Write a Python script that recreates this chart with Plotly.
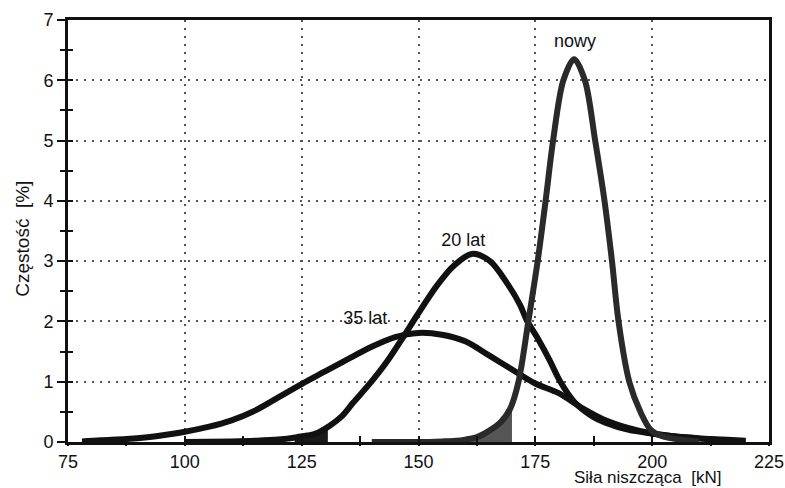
import plotly.graph_objects as go

# ---- data ----
x_35 = [78, 82, 87.5, 92, 96, 100, 105, 110, 115, 120, 125, 130, 135, 140, 145, 150,
        155, 160, 165, 171.3, 175, 180, 185.3, 190, 195, 200, 205, 210, 215, 220]
y_35 = [0.01, 0.03, 0.05, 0.08, 0.12, 0.17, 0.25, 0.36, 0.52, 0.74, 0.96, 1.17, 1.38, 1.58, 1.74, 1.81,
        1.78, 1.67, 1.44, 1.14, 0.97, 0.81, 0.55, 0.36, 0.23, 0.14, 0.09, 0.06, 0.04, 0.02]

x_20 = [100, 110, 115, 120, 124, 128, 131, 133.5, 136, 139.7, 143.3, 146.8, 149.6, 153.9, 157.5,
        161.4, 165.3, 168.9, 171.7, 173.1, 175.5, 178.1, 180.2, 183.4, 187.3, 190, 195, 200, 205, 210, 215, 220]
y_20 = [0.0, 0.01, 0.02, 0.04, 0.08, 0.14, 0.27, 0.42, 0.65, 0.98, 1.34, 1.75, 2.09, 2.59, 2.92,
        3.12, 3.0, 2.64, 2.28, 2.03, 1.72, 1.35, 1.02, 0.66, 0.42, 0.32, 0.2, 0.14, 0.09, 0.06, 0.03, 0.01]

x_nowy = [140, 150, 155, 158, 160, 162.5, 165, 167.5, 169.6, 171.4, 173.5, 175.5, 177.2, 178.8, 181, 183.3,
          185.6, 187.8, 189.8, 191.4, 192.8, 195.1, 197.6, 199.7, 202, 205, 210]
y_nowy = [0.0, 0.0, 0.01, 0.02, 0.04, 0.08, 0.18, 0.32, 0.55, 1.0, 2.0, 3.0, 4.0, 5.0, 6.0, 6.35,
          6.0, 5.0, 4.0, 3.0, 2.0, 1.0, 0.48, 0.2, 0.1, 0.05, 0.01]

shade_20_x = [123.5, 126, 128, 130.6]
shade_20_y = [0.06, 0.1, 0.15, 0.24]

shade_nowy_x = [160, 162.5, 165, 167.5, 170]
shade_nowy_y = [0.03, 0.08, 0.18, 0.33, 0.62]

labels = ["nowy", "20 lat", "35 lat"]
label_x = [183.5, 159.6, 138.6]
label_y = [6.63, 3.33, 2.04]

x_ticks = [75, 100, 125, 150, 175, 200, 225]
y_ticks = [0, 1, 2, 3, 4, 5, 6, 7]

FONT = "Liberation Sans, Arial, sans-serif"
INK = "#111111"

fig = go.Figure()

fig.add_trace(go.Scatter(x=shade_20_x, y=shade_20_y, mode="lines", fill="tozeroy",
                         line=dict(color="#1a1a1a", width=0), fillcolor="#1a1a1a",
                         hoverinfo="skip", showlegend=False))
fig.add_trace(go.Scatter(x=shade_nowy_x, y=shade_nowy_y, mode="lines", fill="tozeroy",
                         line=dict(color="#555555", width=0), fillcolor="#555555",
                         hoverinfo="skip", showlegend=False))

fig.add_trace(go.Scatter(x=x_35, y=y_35, mode="lines", line=dict(color=INK, width=6, shape="spline", smoothing=0.9),
                         showlegend=False, name="35 lat"))
fig.add_trace(go.Scatter(x=x_20, y=y_20, mode="lines", line=dict(color=INK, width=6, shape="spline", smoothing=0.9),
                         showlegend=False, name="20 lat"))
fig.add_trace(go.Scatter(x=x_nowy, y=y_nowy, mode="lines", line=dict(color="#2a2a2a", width=6, shape="spline", smoothing=0.9),
                         showlegend=False, name="nowy"))

fig.add_trace(go.Scatter(x=label_x, y=label_y, mode="text", text=labels,
                         textfont=dict(family=FONT, size=18, color=INK), showlegend=False, hoverinfo="skip"))

# overlay axes for inward ticks
fig.add_trace(go.Scatter(x=[], y=[], xaxis="x2", yaxis="y2", showlegend=False))

grid = dict(showgrid=True, gridcolor="#555555", gridwidth=1.5, griddash="2px,6px")

fig.update_layout(
    width=785, height=488,
    margin=dict(l=68, r=16, t=20, b=46, autoexpand=False),
    paper_bgcolor="white", plot_bgcolor="white",
    font=dict(family=FONT, size=18, color=INK),
    xaxis=dict(range=[75, 225], tickmode="array", tickvals=x_ticks, ticktext=[str(v) for v in x_ticks],
               ticks="outside", ticklen=1, tickwidth=2, tickcolor=INK, automargin=False,
               minor=dict(dtick=12.5, tick0=75, ticks="outside", ticklen=1, tickwidth=2, tickcolor=INK, showgrid=False),
               showline=True, linecolor=INK, linewidth=3, mirror=True, zeroline=False,
               tickfont=dict(family=FONT, size=18, color=INK), **grid),
    yaxis=dict(range=[0, 7], tickmode="array", tickvals=y_ticks, ticktext=[str(v) for v in y_ticks],
               ticks="outside", ticklen=8, tickwidth=2, tickcolor=INK, automargin=False,
               minor=dict(dtick=0.5, tick0=0, ticks="outside", ticklen=5, tickwidth=2, tickcolor=INK, showgrid=False),
               showline=True, linecolor=INK, linewidth=3, mirror=True, zeroline=False,
               tickfont=dict(family=FONT, size=18, color=INK), **grid),
    xaxis2=dict(range=[75, 225], overlaying="x", anchor="y", side="bottom", dtick=25, tick0=75,
                ticks="inside", ticklen=6, tickwidth=2, tickcolor=INK, automargin=False,
                minor=dict(dtick=12.5, tick0=75, ticks="inside", ticklen=6, tickwidth=2, tickcolor=INK),
                showticklabels=False, showgrid=False, showline=False, zeroline=False),
    yaxis2=dict(range=[0, 7], overlaying="y", anchor="x", side="left", dtick=1, tick0=0,
                ticks="inside", ticklen=5, tickwidth=2, tickcolor=INK, automargin=False,
                minor=dict(dtick=0.5, tick0=0, ticks="inside", ticklen=5, tickwidth=2, tickcolor=INK),
                showticklabels=False, showgrid=False, showline=False, zeroline=False),
    annotations=[
        dict(text="Siła niszcząca\u00a0\u00a0[kN]", xref="paper", yref="paper", x=0.826, y=-0.084,
             xanchor="center", yanchor="middle", showarrow=False, font=dict(family=FONT, size=17, color=INK)),
        dict(text="Częstość\u00a0\u00a0[%]", xref="paper", yref="paper", x=-0.066, y=0.481,
             xanchor="center", yanchor="middle", textangle=-90, showarrow=False,
             font=dict(family=FONT, size=19, color=INK)),
    ],
)

fig.write_html("out.html", config={"displayModeBar": False},
               post_script="document.body.style.margin='0';document.body.style.overflow='hidden';")
